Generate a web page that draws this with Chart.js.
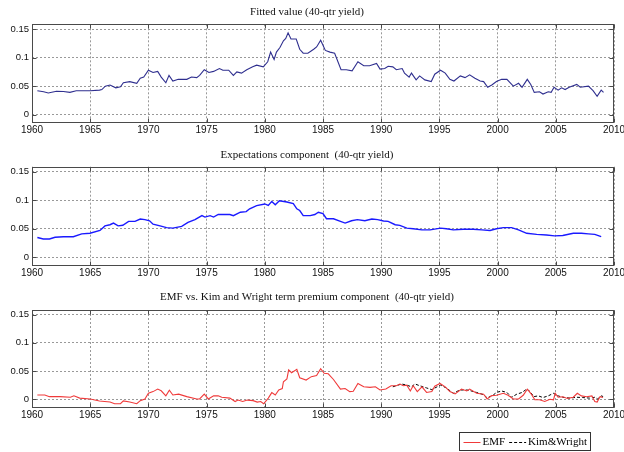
<!DOCTYPE html>
<html><head><meta charset="utf-8">
<script src="https://cdn.jsdelivr.net/npm/chart.js@4.4.1/dist/chart.umd.min.js"></script>
<style>
html,body{margin:0;padding:0;background:#fff}
#wrap{position:relative;width:624px;height:452px;overflow:hidden}
canvas{position:absolute;left:0}
</style>
</head><body>
<div id="wrap">
<canvas id="c1" width="624" height="140" style="top:0px"></canvas>
<canvas id="c2" width="624" height="140" style="top:140px"></canvas>
<canvas id="c3" width="624" height="172" style="top:280px"></canvas>
</div>
<script>
// ---------- DATA ----------
const xTicks = [1960, 1965, 1970, 1975, 1980, 1985, 1990, 1995, 2000, 2005, 2010];
const xTickLabels = ['1960','1965','1970','1975','1980','1985','1990','1995','2000','2005','2010'];
const yTicks = [0, 0.05, 0.1, 0.15];
const yTickLabels = ['0', '0.05', '0.1', '0.15'];

const titles = ['Fitted value (40-qtr yield)', 'Expectations component  (40-qtr yield)', 'EMF vs. Kim and Wright term premium component  (40-qtr yield)'];
const seriesNames = ['EMF', 'Kim&Wright'];

const fittedYears = [1960.46,1961.0,1961.4,1962.1,1962.7,1963.26,1963.8,1964.5,1965.0,1965.8,1966.0,1966.3,1966.7,1967.2,1967.6,1967.85,1968.4,1969.0,1969.3,1969.6,1970.0,1970.4,1970.8,1971.1,1971.5,1971.77,1972.1,1972.57,1973.3,1973.7,1974.15,1974.4,1974.8,1975.2,1975.6,1976.1,1976.4,1976.9,1977.3,1977.6,1978.0,1978.45,1978.96,1979.3,1979.87,1980.25,1980.5,1980.8,1981.0,1981.3,1981.6,1981.8,1982.0,1982.25,1982.7,1983.0,1983.3,1983.7,1984.2,1984.45,1984.8,1985.2,1985.6,1986.0,1986.55,1987.0,1987.5,1988.0,1988.5,1989.0,1989.6,1989.9,1990.3,1990.6,1991.0,1991.3,1991.8,1992.0,1992.4,1992.6,1993.0,1993.3,1993.75,1994.3,1994.6,1995.1,1995.5,1995.9,1996.25,1996.8,1997.2,1997.6,1998.05,1998.5,1998.8,1999.15,1999.5,1999.9,2000.35,2000.8,2001.35,2001.8,2002.1,2002.55,2002.85,2003.15,2003.6,2003.9,2004.35,2004.6,2004.85,2005.2,2005.5,2005.8,2006.15,2006.8,2007.1,2007.8,2008.2,2008.55,2008.9,2009.1];
const fittedVals = [0.042,0.040,0.038,0.041,0.0405,0.039,0.042,0.042,0.042,0.043,0.044,0.050,0.052,0.047,0.049,0.056,0.058,0.055,0.064,0.066,0.078,0.074,0.076,0.066,0.056,0.069,0.059,0.062,0.062,0.066,0.065,0.069,0.079,0.074,0.076,0.081,0.078,0.078,0.069,0.075,0.073,0.079,0.084,0.087,0.084,0.093,0.110,0.097,0.110,0.118,0.130,0.134,0.144,0.133,0.133,0.115,0.108,0.108,0.115,0.119,0.131,0.113,0.110,0.108,0.079,0.079,0.077,0.093,0.086,0.086,0.090,0.080,0.081,0.085,0.084,0.079,0.081,0.073,0.066,0.073,0.061,0.068,0.061,0.058,0.071,0.078,0.073,0.062,0.059,0.068,0.065,0.070,0.064,0.059,0.058,0.048,0.052,0.058,0.062,0.062,0.050,0.055,0.048,0.062,0.053,0.039,0.040,0.036,0.040,0.039,0.048,0.043,0.047,0.044,0.048,0.053,0.048,0.050,0.042,0.032,0.043,0.039];

const expectYears = [1960.46,1960.97,1961.5,1961.98,1962.7,1963.55,1964.27,1964.98,1965.84,1966.27,1966.7,1967.0,1967.4,1967.8,1968.3,1968.85,1969.3,1969.7,1970.1,1970.4,1971.0,1971.56,1972.1,1972.86,1973.4,1974.0,1974.6,1974.86,1975.3,1975.6,1976.0,1977.0,1977.3,1977.9,1978.4,1978.7,1979.3,1980.0,1980.3,1980.6,1980.9,1981.25,1981.9,1982.45,1982.75,1983.0,1983.3,1983.9,1984.3,1984.6,1985.0,1985.3,1985.9,1986.5,1986.9,1987.45,1987.95,1988.6,1989.2,1989.7,1990.2,1990.6,1991.2,1991.6,1992.2,1992.75,1993.5,1994.2,1995.1,1995.6,1996.2,1997.05,1997.9,1998.65,1999.35,1999.9,2000.5,2001.2,2001.8,2002.5,2003.36,2004.2,2004.9,2005.6,2006.5,2007.2,2007.8,2008.35,2008.9];
const expectVals = [0.0346,0.032,0.032,0.035,0.036,0.036,0.041,0.042,0.047,0.055,0.057,0.060,0.055,0.056,0.063,0.063,0.067,0.066,0.064,0.058,0.055,0.052,0.051,0.054,0.061,0.066,0.073,0.0705,0.073,0.0705,0.075,0.075,0.073,0.079,0.080,0.085,0.0905,0.0935,0.091,0.098,0.092,0.099,0.097,0.094,0.085,0.082,0.073,0.073,0.075,0.079,0.0765,0.0675,0.0675,0.063,0.060,0.064,0.066,0.064,0.067,0.066,0.0635,0.063,0.057,0.056,0.051,0.050,0.048,0.048,0.051,0.050,0.048,0.049,0.049,0.048,0.047,0.050,0.052,0.052,0.048,0.042,0.040,0.039,0.0375,0.038,0.042,0.042,0.041,0.040,0.036];

const emfYears = [1960.46,1961.1,1961.5,1962.4,1963.3,1963.6,1964.1,1965.0,1965.8,1966.7,1967.1,1967.6,1967.85,1968.4,1969.0,1969.3,1969.7,1970.0,1970.4,1970.8,1971.1,1971.5,1971.8,1972.1,1972.6,1973.3,1974.15,1974.4,1974.8,1975.15,1975.6,1976.0,1976.3,1977.0,1977.45,1977.7,1978.1,1978.5,1979.0,1979.35,1979.65,1979.9,1980.3,1980.6,1980.9,1981.2,1981.5,1981.6,1981.9,1982.05,1982.3,1982.75,1983.0,1983.55,1984.0,1984.45,1984.8,1985.1,1985.45,1985.9,1986.5,1986.9,1987.3,1987.6,1988.0,1988.5,1989.04,1989.5,1989.9,1990.4,1990.85,1991.3,1991.6,1991.9,1992.2,1992.5,1992.75,1993.1,1993.5,1993.9,1994.35,1994.6,1995.05,1995.5,1995.9,1996.35,1996.9,1997.35,1997.6,1998.2,1998.8,1999.1,1999.5,1999.9,2000.5,2000.9,2001.35,2001.8,2002.2,2002.55,2002.9,2003.2,2003.6,2004.05,2004.5,2004.8,2004.95,2005.2,2005.6,2006.0,2006.5,2006.85,2007.2,2007.65,2008.1,2008.35,2008.55,2008.8,2009.05];
const emfVals = [0.0076,0.0076,0.0046,0.0046,0.0035,0.006,0.002,0.0005,-0.003,-0.005,-0.008,-0.008,-0.003,-0.005,-0.008,-0.0025,0.0005,0.0105,0.0135,0.018,0.015,0.006,0.016,0.0076,0.009,0.0046,0.0005,0.0005,0.009,0.0005,0.006,0.006,0.0035,0.002,-0.004,-0.0015,-0.004,-0.0015,-0.0025,-0.005,-0.004,-0.008,0.002,0.0117,0.0076,0.0164,0.019,0.031,0.036,0.052,0.047,0.053,0.038,0.034,0.040,0.042,0.054,0.046,0.045,0.035,0.018,0.019,0.0135,0.014,0.028,0.022,0.021,0.022,0.0164,0.018,0.024,0.024,0.027,0.024,0.025,0.0146,0.024,0.0135,0.022,0.012,0.0135,0.023,0.028,0.022,0.0135,0.0094,0.018,0.0146,0.018,0.0105,0.009,0.0005,0.0064,0.007,0.0105,0.007,0.0005,0.0005,0.007,0.018,0.009,-0.001,-0.001,-0.004,0.0,-0.001,0.0105,0.0035,0.0045,0.0015,0.0035,0.0105,0.006,0.0045,0.006,-0.004,-0.005,0.0045,0.003];

const kwYears = [1991.0,1991.75,1992.2,1992.6,1992.9,1993.3,1993.9,1994.35,1994.8,1995.1,1995.6,1996.2,1996.75,1997.35,1997.6,1998.2,1998.8,1999.1,1999.6,1999.9,2000.35,2000.8,2001.2,2001.65,2002.1,2002.5,2002.8,2003.1,2003.5,2003.9,2004.35,2004.8,2005.2,2005.6,2006.2,2006.8,2007.3,2007.9,2008.35,2008.6,2008.9,2009.1];
const kwVals = [0.022,0.027,0.025,0.022,0.027,0.024,0.020,0.017,0.022,0.025,0.020,0.0105,0.0164,0.0164,0.0155,0.012,0.008,0.0025,0.007,0.012,0.0146,0.012,0.0035,0.009,0.012,0.018,0.0135,0.0046,0.006,0.003,0.006,0.0105,0.006,0.0035,0.002,0.0035,0.003,0.002,0.0035,0.0005,0.006,0.0045];

// ---------- HELPERS ----------
const pts = (xs, ys) => xs.map((x, i) => ({x: x, y: ys[i]}));
const SANS = '"Liberation Sans", Arial, sans-serif';
const SERIF = '"Liberation Serif", "Times New Roman", serif';

const boxPlugin = {
  id: 'matlabBox',
  afterDatasetsDraw(chart) {
    const ctx = chart.ctx, a = chart.chartArea;
    const L = Math.round(a.left) + 0.5, R = Math.round(a.right) - 0.5;
    const T = Math.round(a.top) + 0.5, B = Math.round(a.bottom) - 0.5;
    ctx.save();
    ctx.setLineDash([]);
    ctx.strokeStyle = '#4a4a4a';
    ctx.lineWidth = 1;
    ctx.strokeRect(L, T, R - L, B - T);
    ctx.beginPath();
    chart.scales.x.ticks.forEach(t => {
      const p = Math.round(chart.scales.x.getPixelForValue(t.value)) + 0.5;
      ctx.moveTo(p, B); ctx.lineTo(p, B - 4);
      ctx.moveTo(p, T); ctx.lineTo(p, T + 4);
    });
    chart.scales.y.ticks.forEach(t => {
      const p = Math.round(chart.scales.y.getPixelForValue(t.value)) + 0.5;
      ctx.moveTo(L, p); ctx.lineTo(L + 4, p);
      ctx.moveTo(R, p); ctx.lineTo(R - 4, p);
    });
    ctx.stroke();
    ctx.restore();
  }
};

const legendPlugin = {
  id: 'boxLegend',
  afterDraw(chart) {
    const ctx = chart.ctx;
    const ds = chart.data.datasets;
    const bx = 459.5, by = 152.5, bw = 131, bh = 18;
    const cy = by + bh / 2;
    ctx.save();
    ctx.fillStyle = '#fff';
    ctx.fillRect(bx, by, bw, bh);
    ctx.strokeStyle = '#333';
    ctx.lineWidth = 1;
    ctx.setLineDash([]);
    ctx.strokeRect(bx, by, bw, bh);
    ctx.font = '11px ' + SERIF;
    ctx.textBaseline = 'middle';
    ctx.textAlign = 'left';
    ctx.fillStyle = '#000';
    let x = bx + 4;
    ds.forEach((d, i) => {
      ctx.beginPath();
      ctx.strokeStyle = d.borderColor;
      ctx.lineWidth = 1;
      ctx.setLineDash(d.borderDash || []);
      ctx.moveTo(x, Math.round(cy) + 0.5);
      ctx.lineTo(x + 17, Math.round(cy) + 0.5);
      ctx.stroke();
      ctx.setLineDash([]);
      x += 19;
      ctx.fillText(d.label, x, cy + 1);
      x += ctx.measureText(d.label).width + 4;
    });
    ctx.restore();
  }
};

function panel(id, titleText, padTop, padBottom, xAxisH, extraBottom, yMax, datasets, plugins) {
  return new Chart(document.getElementById(id), {
    type: 'line',
    data: { datasets: datasets },
    plugins: plugins,
    options: {
      responsive: false,
      animation: false,
      devicePixelRatio: 1,
      layout: { padding: { left: 0, right: 10, top: 0, bottom: extraBottom } },
      elements: { point: { radius: 0 }, line: { tension: 0 } },
      plugins: {
        legend: { display: false },
        tooltip: { enabled: false },
        title: {
          display: true, text: titleText, color: '#111',
          font: { family: SERIF, size: 11, weight: 'normal' },
          padding: { top: padTop, bottom: padBottom }
        }
      },
      scales: {
        x: {
          type: 'linear', min: 1960, max: 2010,
          afterBuildTicks: s => { s.ticks = xTicks.map(v => ({ value: v })); },
          afterFit: s => { s.height = xAxisH; s.paddingLeft = 0; s.paddingRight = 0; },
          ticks: { callback: (v, i) => xTickLabels[i], color: '#111', font: { family: SANS, size: 10 }, padding: 1, maxRotation: 0, autoSkip: false },
          grid: { color: '#999999', lineWidth: 1, drawTicks: false },
          border: { display: false, dash: [2, 2] }
        },
        y: {
          type: 'linear', min: -0.0155, max: yMax,
          afterBuildTicks: s => { s.ticks = yTicks.map(v => ({ value: v })); },
          afterFit: s => { s.width = 32; s.paddingTop = 0; s.paddingBottom = 0; },
          ticks: { callback: (v, i) => yTickLabels[i], color: '#111', font: { family: SANS, size: 9.5 }, padding: 3 },
          grid: { color: '#999999', lineWidth: 1, drawTicks: false },
          border: { display: false, dash: [2, 2] }
        }
      }
    }
  });
}

panel('c1', titles[0], 5.4, 5.7, 16.7, 0, 0.159, [
  { data: pts(fittedYears, fittedVals), borderColor: '#2f2f8f', borderWidth: 1.1 }
], [boxPlugin]);

panel('c2', titles[1], 8.4, 5.1, 14, 0, 0.159, [
  { data: pts(expectYears, expectVals), borderColor: '#1a1aff', borderWidth: 1.4 }
], [boxPlugin]);

panel('c3', titles[2], 10.1, 6.7, 16, 28, 0.158, [
  { label: seriesNames[0], data: pts(emfYears, emfVals), borderColor: '#f03a3a', borderWidth: 1.1 },
  { label: seriesNames[1], data: pts(kwYears, kwVals), borderColor: '#000000', borderWidth: 1, borderDash: [3, 2] }
], [boxPlugin, legendPlugin]);
</script>
</body></html>
